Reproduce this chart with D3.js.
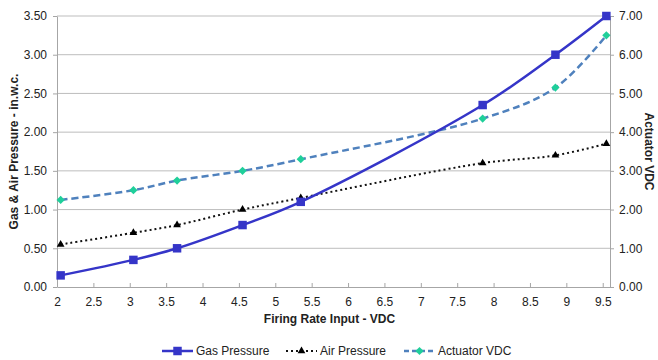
<!DOCTYPE html>
<html>
<head>
<meta charset="utf-8">
<script src="https://cdn.jsdelivr.net/npm/d3@7"></script>
<style>
  body { margin: 0; background: #fff; }
  text { font-family: "Liberation Sans", Arial, sans-serif; fill: #222; }
</style>
</head>
<body>
<div id="chart"></div>
<script>
// data
const firingRate = [2.05, 3.05, 3.65, 4.55, 5.35, 7.85, 8.85, 9.55];
const gasPressure = [0.15, 0.35, 0.5, 0.8, 1.1, 2.35, 3.0, 3.5];
const airPressure = [0.55, 0.7, 0.8, 1.0, 1.15, 1.6, 1.7, 1.85];
const actuatorVdc = [2.25, 2.5, 2.75, 3.0, 3.3, 4.35, 5.15, 6.5];

const xTicks = [2, 2.5, 3, 3.5, 4, 4.5, 5, 5.5, 6, 6.5, 7, 7.5, 8, 8.5, 9, 9.5];
const leftTicks = [0, 0.5, 1, 1.5, 2, 2.5, 3, 3.5];
const rightTicks = [0, 1, 2, 3, 4, 5, 6, 7];
const seriesNames = ["Gas Pressure", "Air Pressure", "Actuator VDC"];

const width = 658;
const height = 360;
const margin = { top: 16, right: 48, bottom: 73, left: 57 };
const mwidth = width - margin.left - margin.right;
const mheight = height - margin.top - margin.bottom;

const svg = d3.select("#chart").append("svg")
    .attr("width", width)
    .attr("height", height);

const xScale = d3.scaleLinear().domain([2, 9.6]).range([0, mwidth]);
const yLeft = d3.scaleLinear().domain([0, 3.5]).range([mheight, 0]);
const yRight = d3.scaleLinear().domain([0, 7]).range([mheight, 0]);

const g = svg.append("g")
    .attr("transform", "translate(" + margin.left + "," + margin.top + ")");

// horizontal grid
g.append("g")
    .selectAll("line")
    .data(leftTicks.slice(1))
    .enter().append("line")
    .attr("x1", 0)
    .attr("x2", mwidth)
    .attr("y1", d => yLeft(d))
    .attr("y2", d => yLeft(d))
    .attr("stroke", "#bdbdbd")
    .attr("stroke-width", 1);

function styleAxis(sel) {
    sel.select(".domain").attr("stroke", "#a6a6a6").attr("stroke-width", 1);
    sel.selectAll(".tick line").attr("stroke", "#a6a6a6");
    sel.selectAll(".tick text")
        .attr("font-size", "12px")
        .attr("fill", "#222")
        .style("font-family", "'Liberation Sans', Arial, sans-serif");
}

// axes
const xAxis = d3.axisBottom(xScale)
    .tickValues(xTicks)
    .tickSizeInner(-4)
    .tickSizeOuter(0)
    .tickPadding(10)
    .tickFormat(d3.format("~g"));
g.append("g")
    .attr("transform", "translate(0," + mheight + ")")
    .call(xAxis)
    .call(styleAxis);

const leftAxis = d3.axisLeft(yLeft)
    .tickValues(leftTicks)
    .tickSizeInner(4)
    .tickSizeOuter(0)
    .tickPadding(6)
    .tickFormat(d3.format(".2f"));
g.append("g")
    .call(leftAxis)
    .call(styleAxis);

const rightAxis = d3.axisRight(yRight)
    .tickValues(rightTicks)
    .tickSizeInner(4)
    .tickSizeOuter(0)
    .tickPadding(5)
    .tickFormat(d3.format(".2f"));
g.append("g")
    .attr("transform", "translate(" + mwidth + ",0)")
    .call(rightAxis)
    .call(styleAxis);

// lines
const gasData = firingRate.map((x, i) => ({ x: x, y: gasPressure[i] }));
const airData = firingRate.map((x, i) => ({ x: x, y: airPressure[i] }));
const actData = firingRate.map((x, i) => ({ x: x, y: actuatorVdc[i] }));

const lineLeft = d3.line()
    .x(d => xScale(d.x))
    .y(d => yLeft(d.y))
    .curve(d3.curveCatmullRom.alpha(0.5));
const lineRight = d3.line()
    .x(d => xScale(d.x))
    .y(d => yRight(d.y))
    .curve(d3.curveCatmullRom.alpha(0.5));

g.append("path")
    .datum(actData)
    .attr("d", lineRight)
    .attr("fill", "none")
    .attr("stroke", "#4f81bd")
    .attr("stroke-width", 2.5)
    .attr("stroke-dasharray", "7,4");

g.append("path")
    .datum(airData)
    .attr("d", lineLeft)
    .attr("fill", "none")
    .attr("stroke", "#111")
    .attr("stroke-width", 2)
    .attr("stroke-dasharray", "2,3");

g.append("path")
    .datum(gasData)
    .attr("d", lineLeft)
    .attr("fill", "none")
    .attr("stroke", "#3535c8")
    .attr("stroke-width", 2.5);

// markers
const square = d3.symbol().type(d3.symbolSquare).size(72);
const triangle = d3.symbol().type(d3.symbolTriangle).size(26);
const diamond = d3.symbol().type(d3.symbolSquare).size(34);

g.selectAll(".act-pt")
    .data(actData)
    .enter().append("path")
    .attr("class", "act-pt")
    .attr("d", diamond)
    .attr("transform", d => "translate(" + xScale(d.x) + "," + yRight(d.y) + ") rotate(45)")
    .attr("fill", "#1fcf9a");

g.selectAll(".air-pt")
    .data(airData)
    .enter().append("path")
    .attr("class", "air-pt")
    .attr("d", triangle)
    .attr("transform", d => "translate(" + xScale(d.x) + "," + yLeft(d.y) + ")")
    .attr("fill", "#000");

g.selectAll(".gas-pt")
    .data(gasData)
    .enter().append("path")
    .attr("class", "gas-pt")
    .attr("d", square)
    .attr("transform", d => "translate(" + xScale(d.x) + "," + yLeft(d.y) + ")")
    .attr("fill", "#3535c8");

// axis titles
svg.append("text")
    .attr("transform", "translate(" + (margin.left + mwidth / 2 - 4) + "," + 323 + ")")
    .style("text-anchor", "middle")
    .attr("font-size", "12px")
    .attr("font-weight", "bold")
    .text("Firing Rate Input - VDC");

svg.append("text")
    .attr("transform", "translate(18," + (margin.top + mheight / 2) + ") rotate(-90)")
    .style("text-anchor", "middle")
    .attr("font-size", "12px")
    .attr("font-weight", "bold")
    .text("Gas & Air Pressure - in.w.c.");

svg.append("text")
    .attr("transform", "translate(645," + (margin.top + mheight / 2) + ") rotate(90)")
    .style("text-anchor", "middle")
    .attr("font-size", "12px")
    .attr("font-weight", "bold")
    .text("Actuator VDC");

// legend
const legendX = [162, 286, 404];
const legend = svg.append("g").attr("transform", "translate(0,351)");
const items = legend.selectAll("g")
    .data(seriesNames)
    .enter().append("g")
    .attr("transform", (d, i) => "translate(" + legendX[i] + ",0)");

items.append("line")
    .attr("x1", 0).attr("x2", 31)
    .attr("y1", 0).attr("y2", 0)
    .attr("stroke", (d, i) => ["#3535c8", "#111", "#4f81bd"][i])
    .attr("stroke-width", (d, i) => [2.5, 2, 2.5][i])
    .attr("stroke-dasharray", (d, i) => [null, "2,3", "5,3"][i]);

items.append("path")
    .attr("d", (d, i) => [square, triangle, diamond][i]())
    .attr("transform", (d, i) => "translate(15.5,0)" + (i === 2 ? " rotate(45)" : ""))
    .attr("fill", (d, i) => ["#3535c8", "#000", "#1fcf9a"][i]);

items.append("text")
    .attr("x", 34)
    .attr("y", 4)
    .attr("font-size", "12px")
    .text(d => d);
</script>
</body>
</html>
